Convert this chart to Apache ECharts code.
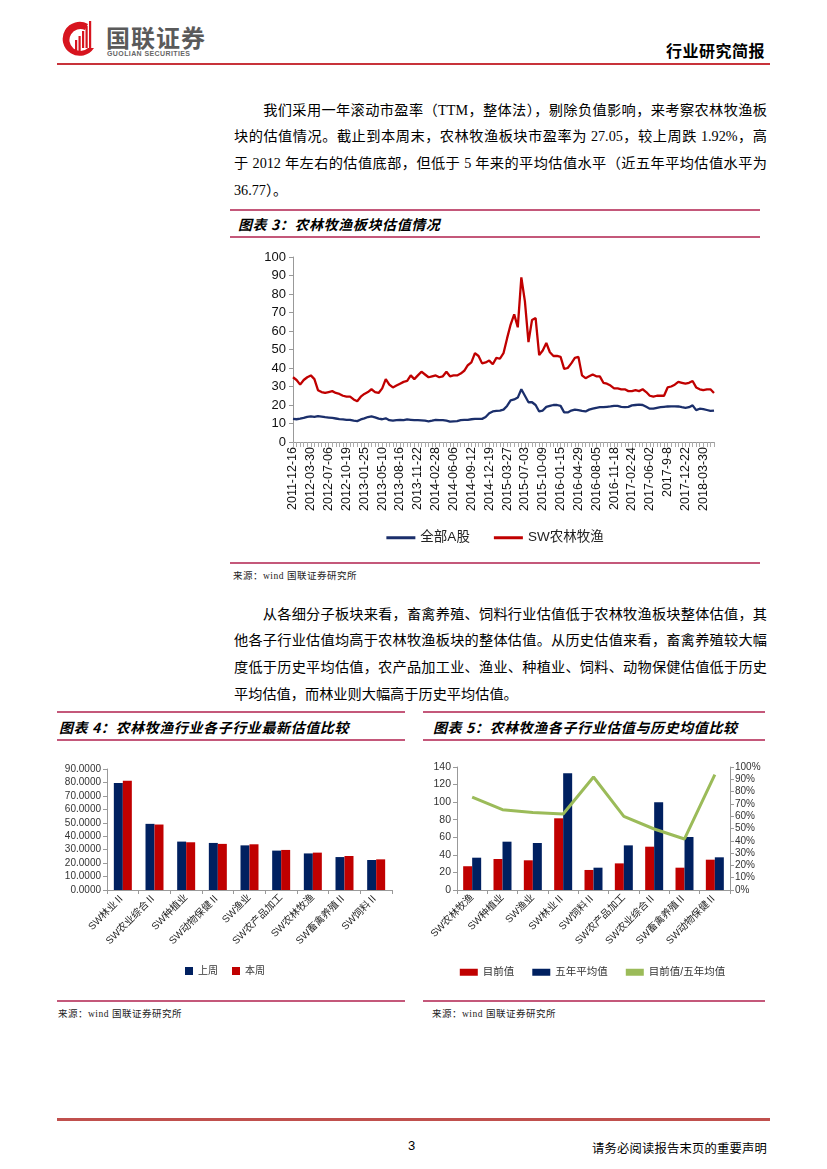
<!DOCTYPE html>
<html><head><meta charset="utf-8">
<script src="https://cdn.jsdelivr.net/npm/echarts@6/dist/echarts.min.js"></script>
<style>
html,body{margin:0;padding:0;background:#fff;}
#page{position:relative;width:827px;height:1169px;overflow:hidden;font-family:"Liberation Serif","Noto Sans CJK SC",serif;color:#000;}
.abs{position:absolute;}
.hl{position:absolute;height:2px;background:#c4587a;}
.title{position:absolute;font-family:"Noto Sans CJK SC",sans-serif;font-weight:bold;font-style:italic;font-size:14px;letter-spacing:0.6px;white-space:nowrap;line-height:20px;}
.src{position:absolute;font-size:9.5px;white-space:nowrap;font-family:"Liberation Serif","Noto Sans CJK SC",serif;color:#222;letter-spacing:0.5px;}
.para{position:absolute;left:234px;width:533px;font-size:14.2px;line-height:26.7px;}
.para div{text-align:justify;text-align-last:justify;white-space:nowrap;}
.para div.last{text-align-last:left;}
</style></head>
<body><div id="page">
<!-- header -->
<svg class="abs" style="left:58px;top:18px" width="40" height="40" viewBox="0 0 40 40">
  <path d="M30 6 A17 17 0 1 0 36 30 L30 30 A11 11 0 1 1 27 12 Z" fill="#d7141e"/>
  <rect x="17" y="22" width="2.2" height="14" fill="#d7141e"/>
  <rect x="20.5" y="18" width="2.2" height="18" fill="#d7141e"/>
  <rect x="24" y="13" width="2.2" height="17" fill="#d7141e"/>
  <rect x="27.5" y="8" width="2.2" height="22" fill="#d7141e"/>
  <rect x="31" y="3" width="2.2" height="27" fill="#d7141e"/>
</svg>
<div class="abs" style="left:106px;top:24px;font-family:'Noto Sans CJK SC',sans-serif;font-weight:bold;font-size:24px;color:#5a5a5a;letter-spacing:1px;line-height:26px;">国联证券</div>
<div class="abs" style="left:107px;top:50px;font-family:'Liberation Sans',sans-serif;font-weight:bold;font-size:7px;color:#666;letter-spacing:0.4px;line-height:8px;">GUOLIAN SECURITIES</div>
<div class="abs" style="left:666px;top:40px;font-family:'Noto Sans CJK SC',sans-serif;font-weight:bold;font-size:16px;line-height:20px;letter-spacing:0.5px;">行业研究简报</div>
<div class="abs" style="left:57px;top:63px;width:713px;height:2px;background:#c8323a;"></div>

<div class="para" style="top:96.5px;">
<div>　　我们采用一年滚动市盈率（TTM，整体法），剔除负值影响，来考察农林牧渔板</div>
<div>块的估值情况。截止到本周末，农林牧渔板块市盈率为 27.05，较上周跌 1.92%，高</div>
<div>于 2012 年左右的估值底部，但低于 5 年来的平均估值水平（近五年平均估值水平为</div>
<div class="last">36.77）。</div>
</div>

<div class="hl" style="left:230px;top:209px;width:530px;"></div>
<div class="title" style="left:238px;top:214px;">图表 3：农林牧渔板块估值情况</div>
<div class="hl" style="left:230px;top:236px;width:530px;"></div>
<div id="c3" class="abs" style="left:230px;top:245px;width:530px;height:315px;"></div>
<div class="hl" style="left:230px;top:562px;width:530px;"></div>
<div class="src" style="left:233px;top:568px;">来源：wind 国联证券研究所</div>

<div class="para" style="top:600.5px;">
<div>　　从各细分子板块来看，畜禽养殖、饲料行业估值低于农林牧渔板块整体估值，其</div>
<div>他各子行业估值均高于农林牧渔板块的整体估值。从历史估值来看，畜禽养殖较大幅</div>
<div>度低于历史平均估值，农产品加工业、渔业、种植业、饲料、动物保健估值低于历史</div>
<div class="last">平均估值，而林业则大幅高于历史平均估值。</div>
</div>

<div class="hl" style="left:57px;top:711px;width:348px;"></div>
<div class="title" style="left:59px;top:717px;">图表 4：农林牧渔行业各子行业最新估值比较</div>
<div class="hl" style="left:57px;top:739px;width:348px;"></div>
<div id="c4" class="abs" style="left:40px;top:745px;width:370px;height:245px;"></div>
<div class="hl" style="left:57px;top:1000px;width:348px;"></div>
<div class="src" style="left:58px;top:1006px;">来源：wind 国联证券研究所</div>

<div class="hl" style="left:423px;top:711px;width:342px;"></div>
<div class="title" style="left:433px;top:717px;">图表 5：农林牧渔各子行业估值与历史均值比较</div>
<div class="hl" style="left:423px;top:739px;width:342px;"></div>
<div id="c5" class="abs" style="left:420px;top:745px;width:345px;height:245px;"></div>
<div class="hl" style="left:423px;top:1000px;width:342px;"></div>
<div class="src" style="left:432px;top:1006px;">来源：wind 国联证券研究所</div>

<!-- footer -->
<div class="abs" style="left:57px;top:1118px;width:713px;height:3px;background:#c0504d;"></div>
<div class="abs" style="left:408px;top:1138px;font-family:'Liberation Sans',sans-serif;font-size:13px;">3</div>
<div class="abs" style="left:592px;top:1139px;font-size:12.3px;font-family:'Noto Sans CJK SC',sans-serif;letter-spacing:0.2px;">请务必阅读报告末页的重要声明</div>
</div>
<script>
// ---------- Chart 3 data (sampled every 3 weeks; a tick label every 5 points) ----------
var tickLabels3 = ["2011-12-16","2012-03-30","2012-07-06","2012-10-19","2013-01-25","2013-05-10","2013-08-16","2013-11-22","2014-02-28","2014-06-06","2014-09-12","2014-12-19","2015-03-27","2015-07-03","2015-10-09","2016-01-15","2016-04-29","2016-08-05","2016-11-18","2017-02-24","2017-06-02","2017-9-8","2017-12-22","2018-03-30"];
var allA = [12.5,12.3,12.6,13,13.6,13.8,13.6,14,13.7,13.4,
13.2,13,12.7,12.4,12.2,12,12,11.5,11.3,12.2,
12.8,13.5,13.8,13.3,12.6,12.3,12.8,11.8,11.5,11.8,
12,11.8,12.2,12,11.8,11.8,11.7,11.5,11.2,11.5,
12,11.8,11.8,11.5,11,11.2,11.3,11.8,12,12,
12.3,12.5,12.5,12.5,13.5,15.5,16.5,16.8,17,17.5,
19.5,22.5,23,24,28.5,25,21.5,21.5,20,16.5,
17,19,19.5,20,20,19.5,16,16,17,17.5,
17.2,16.8,16.5,17.5,18,18.5,18.8,18.8,19,19.2,
19.5,19.5,19,18.8,19,19.8,20,20.2,20,19,
18,18,18.5,18.8,19,19.2,19.3,19.3,19.2,18.8,
18.5,18.8,19.8,17.2,18,17.8,17.3,16.8,17];
var swAgri = [35,33.5,31,33.5,35,36,34,28,27,26.5,
27,27.5,26.5,26,25,24.5,24.5,23,22,24.5,
26,27,28.5,27,26.5,29,34,31,29.5,30.5,
31.5,32.5,33,36,34,36,38,36.5,35,35.5,
36,35,35.5,38,35.5,36,36,37,38.5,41.5,
43,48,46.5,42.5,43,44,42,45.5,45,48,
56,63.5,69,62,89,76,54,66,67,47,
49.5,53.5,48.5,46.5,46.5,46,39.5,40,42.5,45.5,
46,36,34.5,35.5,36.5,35.5,35.5,32,31.5,30.5,
29,29,28.5,28.5,27.5,27.5,28,27.5,28.5,27,
25,24.5,25,25,25,29.5,30,31,32.5,32,
31.5,32,33,29.5,28.5,28,28.5,28.5,26.5];
var seriesNames3 = ["全部A股","SW农林牧渔"];

// ---------- Chart 4 data ----------
var cats4 = ["SW林业Ⅱ","SW农业综合Ⅱ","SW种植业","SW动物保健Ⅱ","SW渔业","SW农产品加工","SW农林牧渔","SW畜禽养殖Ⅱ","SW饲料Ⅱ"];
var lastWeek = [79.6,49.2,36.0,35.0,33.2,29.3,27.2,24.5,22.3];
var thisWeek = [81.3,48.7,35.5,34.3,34.0,29.8,27.8,25.3,22.8];

// ---------- Chart 5 data ----------
var cats5 = ["SW农林牧渔","SW种植业","SW渔业","SW林业Ⅱ","SW饲料Ⅱ","SW农产品加工","SW农业综合Ⅱ","SW畜禽养殖Ⅱ","SW动物保健Ⅱ"];
var curVal = [27.05,35.3,33.8,81.6,22.8,30.3,49.3,25.4,34.5];
var avg5y = [36.77,55.0,53.5,133.0,25.4,50.8,100.0,60.3,37.2];
var ratio = [75.5,65.3,63.1,61.8,91.9,59.9,49.6,41.5,93.8];

var FONT = '"Liberation Sans","Noto Sans CJK SC",sans-serif';
var NAVY = '#1b2f6b', RED = '#c00000';

// Chart 3
var c3 = echarts.init(document.getElementById('c3'));
var idx3 = allA.map(function(_, i){ return String(i); });
c3.setOption({
  animation:false,
  textStyle:{fontFamily:FONT},
  grid:{left:63,right:46,top:12,bottom:118},
  legend:{top:281,left:'center',itemWidth:29,itemHeight:3,itemGap:24,icon:'rect',
    textStyle:{fontSize:13.5,color:'#222',fontFamily:FONT},data:seriesNames3},
  xAxis:{type:'category',data:idx3,boundaryGap:false,
    axisLine:{lineStyle:{color:'#999',width:1}},
    axisTick:{interval:0,length:5,lineStyle:{color:'#aaa',width:1}},
    axisLabel:{interval:4,rotate:90,fontSize:12.5,color:'#111',margin:5,
      formatter:function(v,i){ return (i%5===0 && tickLabels3[i/5])? tickLabels3[i/5] : ''; }},
    splitLine:{show:false}},
  yAxis:{type:'value',min:0,max:100,interval:10,
    axisLine:{show:true,lineStyle:{color:'#999'}},
    axisTick:{show:true,length:4,lineStyle:{color:'#999'}},
    axisLabel:{fontSize:13,color:'#111',margin:7},
    splitLine:{show:false}},
  series:[
    {name:seriesNames3[0],type:'line',data:allA,showSymbol:false,symbol:'none',lineStyle:{color:NAVY,width:2.3},itemStyle:{color:NAVY}},
    {name:seriesNames3[1],type:'line',data:swAgri,showSymbol:false,symbol:'none',lineStyle:{color:RED,width:2.3},itemStyle:{color:RED}}
  ]
});

// Chart 4
var c4 = echarts.init(document.getElementById('c4'));
c4.setOption({
  animation:false,
  textStyle:{fontFamily:FONT},
  grid:{left:67,right:18,top:24,bottom:100},
  legend:{top:216,left:'center',itemWidth:8,itemHeight:8,itemGap:14,icon:'rect',
    textStyle:{fontSize:10,color:'#333',fontFamily:FONT},data:['上周','本周']},
  xAxis:{type:'category',data:cats4,
    axisLine:{lineStyle:{color:'#999'}},
    axisTick:{show:true,length:4,lineStyle:{color:'#999'}},
    axisLabel:{interval:0,rotate:45,fontSize:10,color:'#222',margin:6}},
  yAxis:{type:'value',min:0,max:90,interval:10,
    axisLine:{show:true,lineStyle:{color:'#999'}},
    axisTick:{show:true,length:4,lineStyle:{color:'#999'}},
    axisLabel:{fontSize:10,color:'#333',margin:6,formatter:function(v){return v.toFixed(4);}},
    splitLine:{show:false}},
  series:[
    {name:'上周',type:'bar',data:lastWeek,barWidth:9,barGap:'0%',itemStyle:{color:'#002060'}},
    {name:'本周',type:'bar',data:thisWeek,barWidth:9,barGap:'0%',itemStyle:{color:'#c00000'}}
  ]
});

// Chart 5
var c5 = echarts.init(document.getElementById('c5'));
c5.setOption({
  animation:false,
  textStyle:{fontFamily:FONT},
  grid:{left:37,right:35,top:22,bottom:100},
  legend:{top:217,left:'center',itemGap:18,
    textStyle:{fontSize:10.5,color:'#333',fontFamily:FONT},
    data:[{name:'目前值',icon:'rect',itemStyle:{color:'#c00000'}},
          {name:'五年平均值',icon:'rect',itemStyle:{color:'#002060'}},
          {name:'目前值/五年均值',icon:'rect',itemStyle:{color:'#9bbb59'}}],
    itemWidth:18,itemHeight:7},
  xAxis:{type:'category',data:cats5,
    axisLine:{lineStyle:{color:'#999'}},
    axisTick:{show:true,length:4,lineStyle:{color:'#999'}},
    axisLabel:{interval:0,rotate:45,fontSize:10,color:'#222',margin:6}},
  yAxis:[
    {type:'value',min:0,max:140,interval:20,
     axisLine:{show:true,lineStyle:{color:'#999'}},
     axisTick:{show:true,length:4,lineStyle:{color:'#999'}},
     axisLabel:{fontSize:10.5,color:'#333',margin:6},splitLine:{show:false}},
    {type:'value',min:0,max:100,interval:10,position:'right',
     axisLine:{show:true,lineStyle:{color:'#999'}},
     axisTick:{show:true,length:4,lineStyle:{color:'#999'}},
     axisLabel:{fontSize:10,color:'#333',margin:5,formatter:'{value}%'},splitLine:{show:false}}
  ],
  series:[
    {name:'目前值',type:'bar',data:curVal,barWidth:9,barGap:'0%',itemStyle:{color:'#c00000'}},
    {name:'五年平均值',type:'bar',data:avg5y,barWidth:9,barGap:'0%',itemStyle:{color:'#002060'}},
    {name:'目前值/五年均值',type:'line',yAxisIndex:1,data:ratio,symbol:'none',lineStyle:{color:'#9bbb59',width:3},itemStyle:{color:'#9bbb59'}}
  ]
});
</script>
</body></html>
